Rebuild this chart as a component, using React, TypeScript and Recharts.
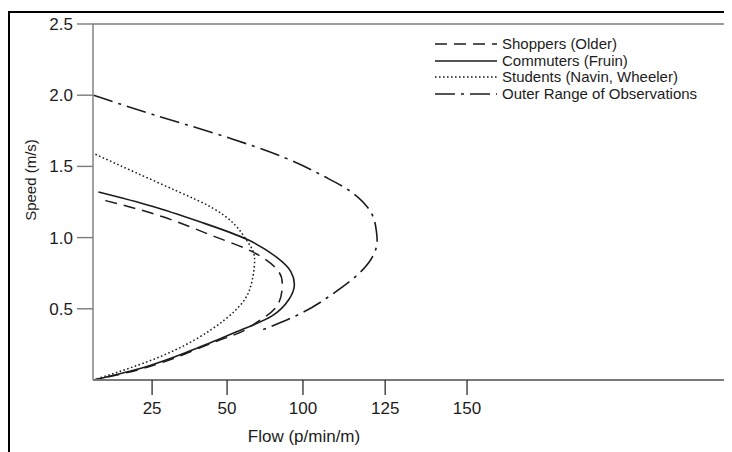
import React from "react";
import { LineChart, Line, XAxis, YAxis, ReferenceLine, Label } from "recharts";

// Flow values are in axis-position units (the original axis labels are unevenly spaced)
const commuters = [
  { x: 7.1, y: 1.32 }, { x: 25, y: 1.22 }, { x: 41.6, y: 1.106 }, { x: 56.8, y: 0.986 },
  { x: 66.7, y: 0.859 }, { x: 71.3, y: 0.76 }, { x: 72.4, y: 0.66 }, { x: 70.6, y: 0.565 },
  { x: 65.0, y: 0.45 }, { x: 55.0, y: 0.355 }, { x: 46.9, y: 0.282 }, { x: 35.9, y: 0.19 },
  { x: 22.7, y: 0.092 }, { x: 5.5, y: 0 },
];
const shoppers = [
  { x: 9.4, y: 1.26 }, { x: 28.3, y: 1.148 }, { x: 45.9, y: 1.007 }, { x: 58.4, y: 0.901 },
  { x: 66.7, y: 0.775 }, { x: 68.4, y: 0.655 }, { x: 66.4, y: 0.514 }, { x: 60.1, y: 0.408 },
  { x: 54.8, y: 0.338 }, { x: 46.9, y: 0.275 }, { x: 35.9, y: 0.183 }, { x: 22.7, y: 0.085 },
  { x: 5.5, y: 0 },
];
const students = [
  { x: 6.1, y: 1.585 }, { x: 19.4, y: 1.458 }, { x: 33.6, y: 1.324 }, { x: 44.9, y: 1.211 },
  { x: 52.5, y: 1.092 }, { x: 56.8, y: 0.972 }, { x: 59.1, y: 0.866 }, { x: 58.4, y: 0.704 },
  { x: 55.8, y: 0.563 }, { x: 49.2, y: 0.423 }, { x: 39.2, y: 0.282 }, { x: 25, y: 0.141 },
  { x: 5.5, y: 0 },
];
const outerRange = [
  { x: 5.5, y: 2.0 }, { x: 25, y: 1.866 }, { x: 46.9, y: 1.725 }, { x: 69.0, y: 1.563 },
  { x: 82.3, y: 1.43 }, { x: 91.2, y: 1.324 }, { x: 97.8, y: 1.183 }, { x: 99.8, y: 1.042 },
  { x: 99.8, y: 0.937 }, { x: 97.2, y: 0.824 }, { x: 91.6, y: 0.704 }, { x: 83.9, y: 0.585 },
  { x: 75.0, y: 0.472 }, { x: 61.8, y: 0.352 },
];

const xTickValues = [25, 50, 75.3, 102.7, 130];
const xTickLabels = ["25", "50", "100", "125", "150"];
const yTickValues = [0.5, 1.0, 1.5, 2.0, 2.5];

const seriesNames = [
  "Shoppers (Older)",
  "Commuters (Fruin)",
  "Students (Navin, Wheeler)",
  "Outer Range of Observations",
];

const FONT = "'Liberation Sans', Arial, sans-serif";
const INK = "#1c1c1c";
const AXIS = "#7a7a7a";

const dashes = ["12 7", undefined, "1.6 2.4", "20 6 3 6"];

function LegendBox() {
  return (
    <div style={{ position: "absolute", left: 427, top: 28, fontFamily: FONT, fontSize: 15, color: INK }}>
      {seriesNames.map((n, i) => (
        <div key={n} style={{ display: "flex", alignItems: "center", height: 16.5, lineHeight: "16.5px" }}>
          <svg width={64} height={10} style={{ display: "block" }}>
            <line x1={0} y1={5} x2={62} y2={5} stroke={INK} strokeWidth={1.6} strokeDasharray={dashes[i]} />
          </svg>
          <span style={{ marginLeft: 3, whiteSpace: "nowrap" }}>{n}</span>
        </div>
      ))}
    </div>
  );
}

export default function App() {
  return (
    <div style={{ position: "relative", width: 724, height: 444, overflow: "hidden", background: "#fff" }}>
      <div
        style={{
          position: "absolute", left: 0, top: 3, width: 900, height: 600,
          borderTop: "2px solid #000", borderLeft: "2px solid #000",
        }}
      />
      <div style={{ position: "absolute", left: 0, top: 0 }}>
        <LineChart width={760} height={444} margin={{ top: 16, right: 7, left: 0, bottom: 0 }}>
          <XAxis
            dataKey="x"
            type="number"
            domain={[5.3, 228]}
            ticks={xTickValues}
            tickFormatter={(v: number) => xTickLabels[xTickValues.indexOf(v)] ?? ""}
            height={72}
            tickSize={15}
            tickMargin={7}
            stroke={AXIS}
            axisLine={{ stroke: AXIS, strokeWidth: 1.8 }}
            tickLine={{ stroke: INK, strokeWidth: 1.2 }}
            tick={{ fill: INK, fontSize: 17, fontFamily: FONT }}
            allowDataOverflow
          >
            <Label
              content={() => (
                <text x={296} y={434} textAnchor="middle" fill={INK} fontSize={17} fontFamily={FONT}>
                  Flow (p/min/m)
                </text>
              )}
            />
          </XAxis>
          <YAxis
            type="number"
            domain={[0, 2.5]}
            ticks={yTickValues}
            tickFormatter={(v: number) => v.toFixed(1)}
            width={85}
            tickSize={16}
            tickMargin={4}
            axisLine={{ stroke: AXIS, strokeWidth: 1.4 }}
            tickLine={{ stroke: AXIS, strokeWidth: 1.4 }}
            tick={{ fill: INK, fontSize: 17, fontFamily: FONT }}
          >
            <Label
              content={() => (
                <text
                  x={22}
                  y={172}
                  transform="rotate(-90 22 172)"
                  textAnchor="middle"
                  dominantBaseline="central"
                  fill={INK}
                  fontSize={15}
                  fontFamily={FONT}
                >
                  Speed (m/s)
                </text>
              )}
            />
          </YAxis>
          <ReferenceLine y={2.5} stroke={AXIS} strokeWidth={1.4} />
          <Line data={shoppers} dataKey="y" type="natural" dot={false} stroke={INK} strokeWidth={1.5} strokeDasharray={dashes[0]} isAnimationActive={false} />
          <Line data={commuters} dataKey="y" type="natural" dot={false} stroke={INK} strokeWidth={1.6} isAnimationActive={false} />
          <Line data={students} dataKey="y" type="natural" dot={false} stroke={INK} strokeWidth={1.5} strokeDasharray={dashes[2]} isAnimationActive={false} />
          <Line data={outerRange} dataKey="y" type="natural" dot={false} stroke={INK} strokeWidth={1.6} strokeDasharray={dashes[3]} isAnimationActive={false} />
        </LineChart>
      </div>
      <LegendBox />
    </div>
  );
}
